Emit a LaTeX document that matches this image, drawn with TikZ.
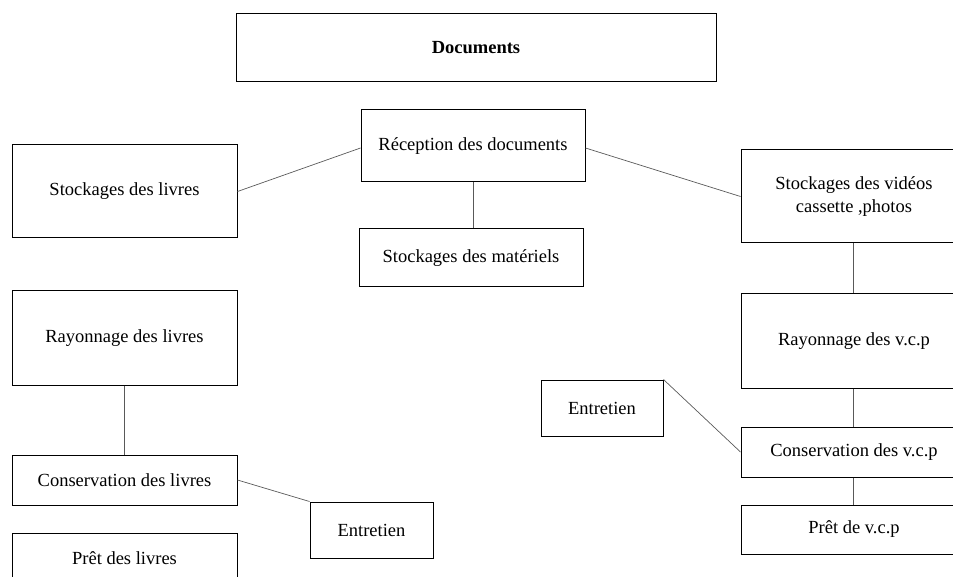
\documentclass[tikz,border=0pt]{standalone}
\usepackage{fontspec}
\setmainfont{Liberation Serif}
\begin{document}
\begin{tikzpicture}[x=1pt,y=-1pt,
  box/.style={draw=black,line width=1pt,rectangle,inner sep=0pt,align=center,
    font=\fontsize{18.5}{23}\selectfont},
  link/.style={draw=black!65,line width=0.7pt}]
\useasboundingbox (0,0) rectangle (953,577);
\clip (0,0) rectangle (953,577);
% boxes: centre, width, height
\node[box,minimum width=480,minimum height=68,font=\fontsize{18.5}{23}\selectfont\bfseries] (doc) at (476,48) {Documents};
\node[box,minimum width=224,minimum height=72] (rec) at (473,146) {Réception des documents};
\node[box,minimum width=225,minimum height=93] (sl) at (124.5,191.5) {Stockages des livres};
\node[box,minimum width=224,minimum height=58] (sm) at (471,258) {Stockages des matériels};
\node[box,minimum width=226,minimum height=93] (sv) at (854,196.5) {Stockages des vidéos\\cassette ,photos};
\node[box,minimum width=225,minimum height=94] (rl) at (124.5,338) {Rayonnage des livres};
\node[box,minimum width=225,minimum height=50] (cl) at (124.5,480) {Conservation des livres};
\node[box,minimum width=123,minimum height=56] (el) at (371.5,530) {Entretien};
\node[box,minimum width=225,minimum height=50] (pl) at (124.5,558) {Prêt des livres};
\node[box,minimum width=226,minimum height=94] (rv) at (854,341) {Rayonnage des v.c.p};
\node[box,minimum width=122,minimum height=56] (ev) at (602,408) {Entretien};
\node[box,minimum width=226,minimum height=50] (cv) at (854,452) {Conservation des v.c.p};
\node[box,minimum width=226,minimum height=49] (pv) at (854,529.5) {Prêt de v.c.p};
% connectors
\draw[link] (rec.west) ++(0,2) -- (sl.east);
\draw[link] (rec.east) ++(0,2) -- (sv.west);
\draw[link] (rec.south) -- (sm.north -| rec.south);
\draw[link] (sv.south -| 853,0) -- (rv.north -| 853,0);
\draw[link] (rl.south) -- (cl.north);
\draw[link] (cl.east) -- (el.north west);
\draw[link] (ev.north east) -- (cv.west);
\draw[link] (rv.south -| 853,0) -- (cv.north -| 853,0);
\draw[link] (cv.south -| 853,0) -- (pv.north -| 853,0);
\end{tikzpicture}
\end{document}
